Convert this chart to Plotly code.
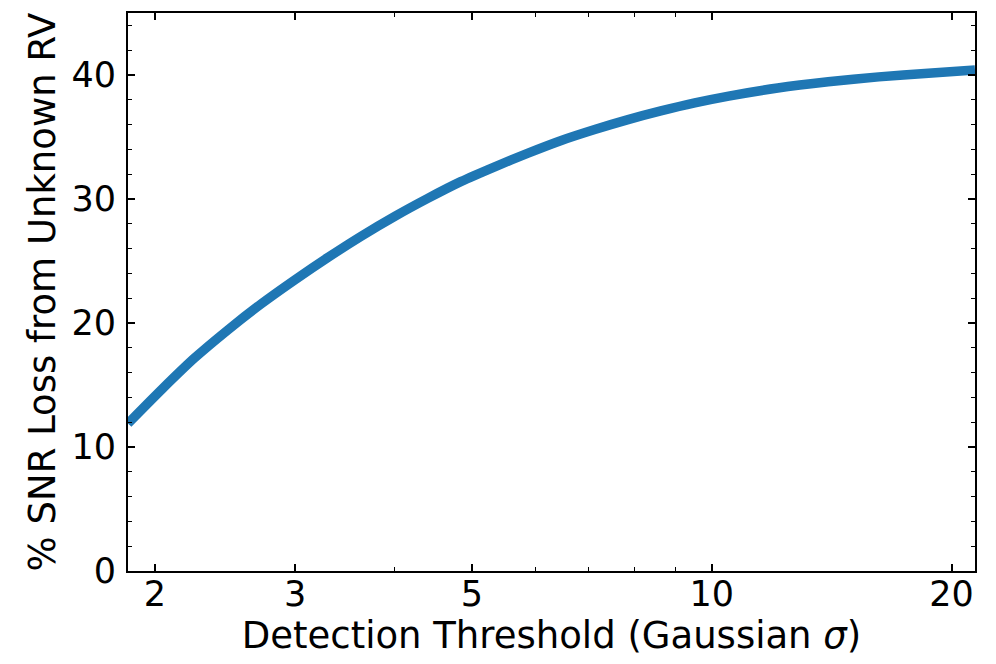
import math
import plotly.graph_objects as go

# Detection threshold (Gaussian sigma) and % SNR loss
threshold = [1.85, 2.04, 2.24, 2.47, 2.72, 3.0, 3.3, 3.63, 4.0, 4.4, 4.84, 5.34,
             5.88, 6.46, 7.13, 7.85, 8.63, 9.52, 10.5, 12.1, 14.0, 16.2, 18.7, 21.4]
snr_loss = [11.9, 14.65, 17.15, 19.45, 21.55, 23.5, 25.3, 27.0, 28.6, 30.05, 31.4, 32.6,
            33.7, 34.7, 35.6, 36.4, 37.1, 37.75, 38.3, 38.95, 39.45, 39.85, 40.15, 40.4]

x_major = [2, 3, 5, 10, 20]
x_minor = [4, 6, 7, 8, 9]
y_major = [0, 10, 20, 30, 40]

FONT = "DejaVu Sans"
TICK_FS = 35
TITLE_FS = 37

fig = go.Figure()
fig.add_trace(go.Scatter(
    x=threshold, y=snr_loss, mode="lines",
    line=dict(color="#1f77b4", width=9.5, shape="spline", smoothing=0.7),
    showlegend=False,
))

# page body has an 8px default margin, so the figure is sized/offset to compensate
fig.update_layout(
    width=988, height=656,
    margin=dict(l=120, r=21, t=5, b=93, autoexpand=False),
    paper_bgcolor="white", plot_bgcolor="white",
    font=dict(family=FONT, size=TICK_FS, color="black"),
)

fig.update_xaxes(
    type="log", automargin=False,
    range=[math.log10(1.85), math.log10(21.4)],
    tickvals=x_major, ticktext=[str(v) for v in x_major],
    ticks="inside", ticklen=7, tickwidth=1.6, tickcolor="black",
    showline=True, linewidth=2, linecolor="black", mirror="ticks",
    showgrid=False, zeroline=False,
    minor=dict(tickvals=x_minor, ticks="inside", ticklen=4, tickwidth=1.2,
               tickcolor="black", showgrid=False),
    tickfont=dict(family=FONT, size=TICK_FS),
    ticklabelstandoff=-9,
    title=dict(text="Detection Threshold (Gaussian <i>σ</i>)",
               font=dict(family=FONT, size=TITLE_FS), standoff=2),
)
fig.update_yaxes(
    range=[0, 45], automargin=False,
    tickvals=y_major,
    ticks="inside", ticklen=7, tickwidth=1.6, tickcolor="black",
    showline=True, linewidth=2, linecolor="black", mirror="ticks",
    showgrid=False, zeroline=False,
    minor=dict(dtick=2, ticks="inside", ticklen=4, tickwidth=1.2,
               tickcolor="black", showgrid=False),
    tickfont=dict(family=FONT, size=TICK_FS),
    ticklabelstandoff=3,
    title=dict(text="% SNR Loss from Unknown RV",
               font=dict(family=FONT, size=TITLE_FS), standoff=5),
)

fig.write_html("out.html")
